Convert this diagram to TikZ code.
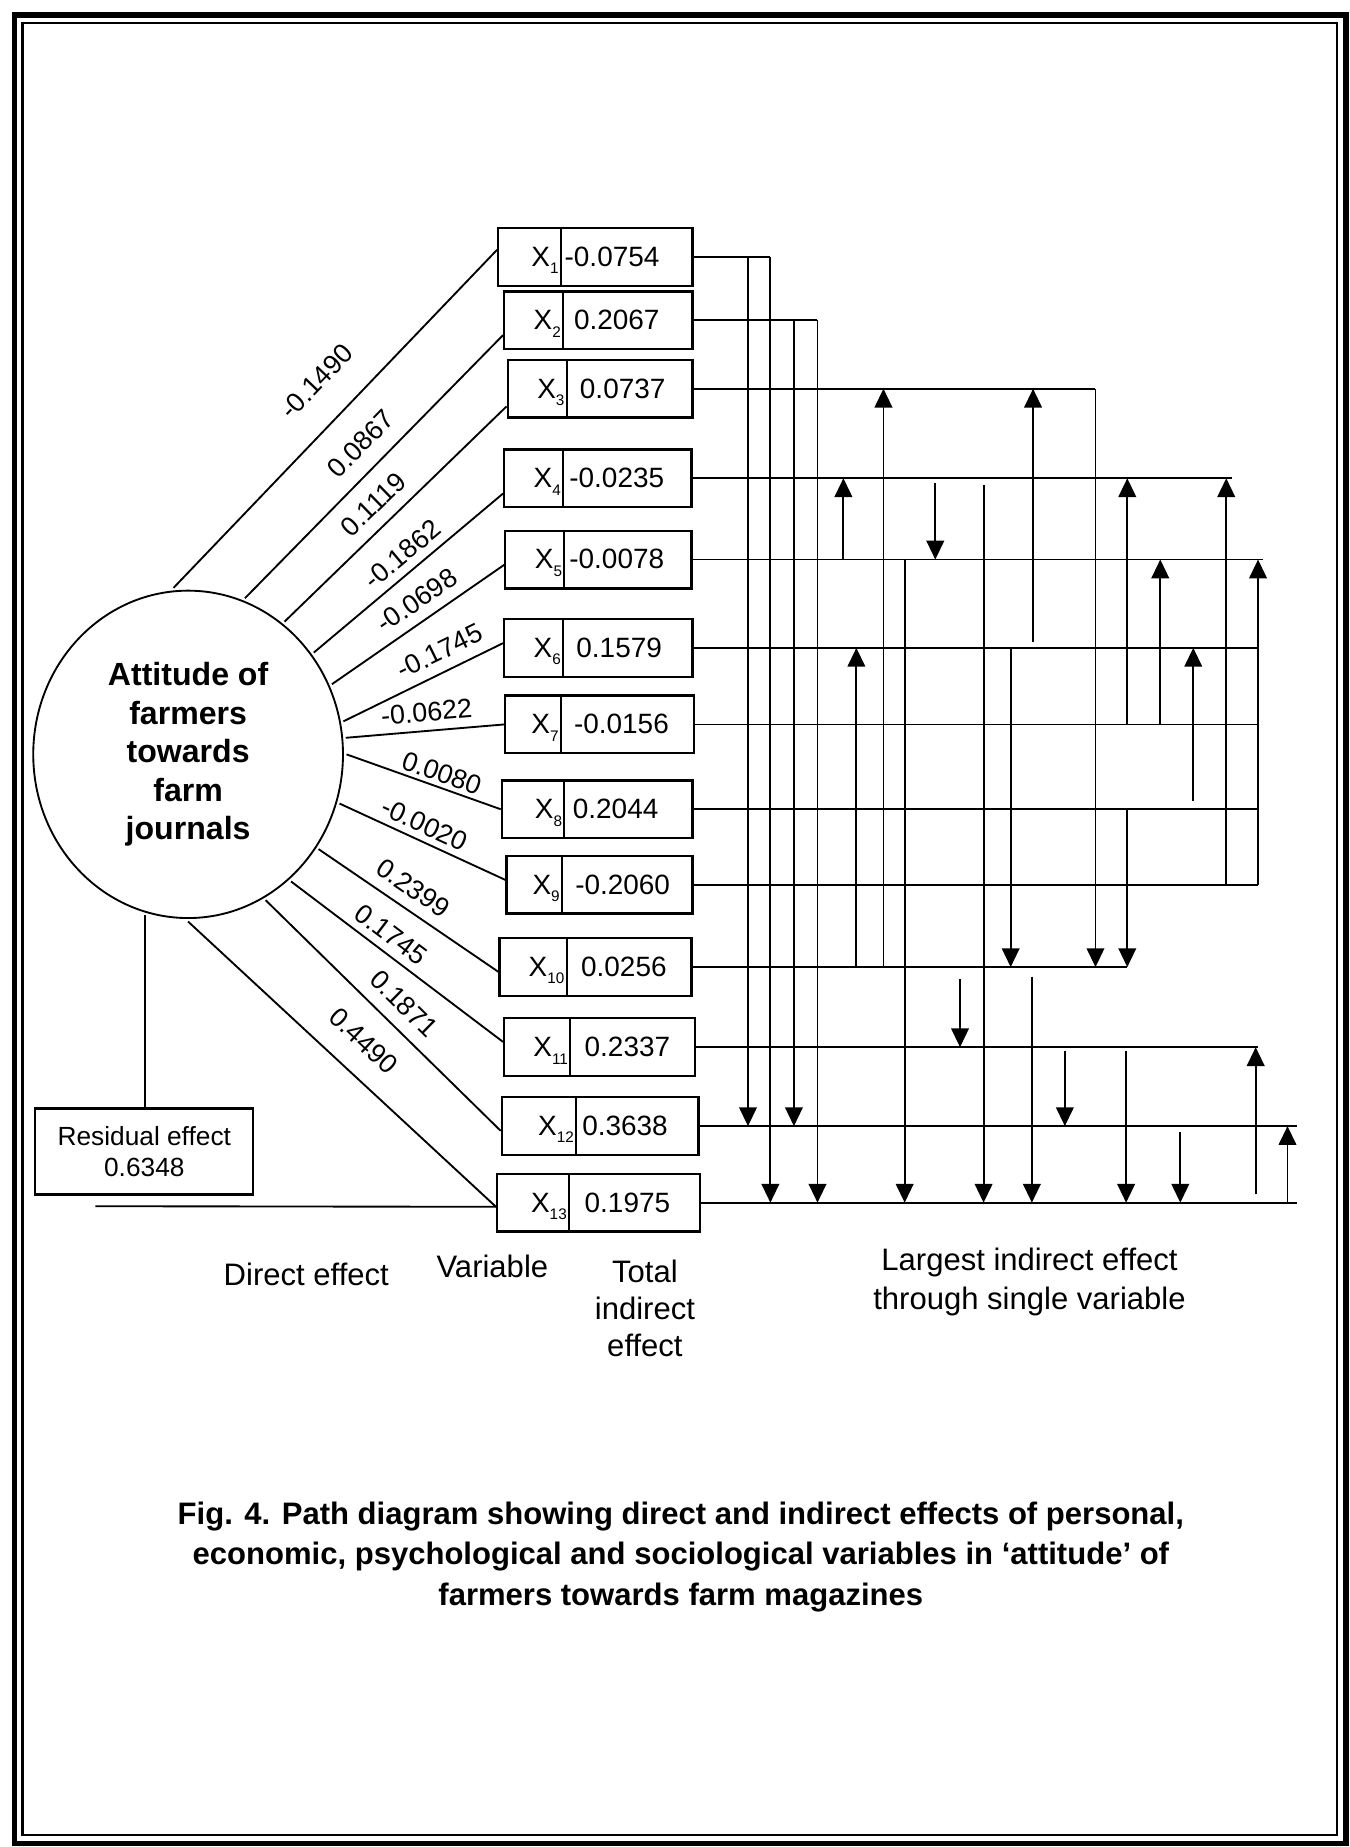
\documentclass[tikz,border=0pt]{standalone}
\usepackage{fontspec}
\setmainfont{Liberation Sans}
\usetikzlibrary{arrows.meta, shapes.geometric}
\newcommand{\varx}[1]{X\raisebox{-3.6pt}{\fontsize{7.4}{8}\selectfont #1}}

\begin{document}
\begin{tikzpicture}[x=0.02cm, y=-0.02cm,
    effline/.style={line width=0.9pt},
    effarrow/.style={line width=0.9pt, -{Triangle[length=0.32cm, width=0.3cm]}},
    varbox/.style={draw, line width=1.1pt, minimum height=0.98cm, inner sep=0pt},
    vartext/.style={font=\fontsize{13.5}{16}\selectfont, inner sep=0pt},
    pathlabel/.style={font=\fontsize{13}{15}\selectfont, sloped, anchor=south, inner sep=0pt},
    note/.style={font=\fontsize{15}{18.5}\selectfont, align=center, inner sep=0pt}]
%\draw[step=50,gray,very thin] (0,0) grid (1146,1568); %background grid
\useasboundingbox (0,0) rectangle (1146,1568);
\draw[line width=0.1cm] (12.3,12.7) rectangle (1143,1565); %frame
\draw[line width=0.04cm] (19.2,19.5) rectangle (1135,1558);

% dependent variable
\node[ellipse, draw, line width=0.9pt, minimum width=5.26cm, minimum height=5.56cm, inner sep=0pt, outer sep=0.06cm, align=center, font=\bfseries\fontsize{15.5}{18.6}\selectfont] (att) at (159.7,640.4) {Attitude of\\farmers\\towards\\farm\\journals};

% variables
\node[varbox, minimum width=3.30cm] (x1) at (505.5,218) {}; %X1
\draw[effline] (x1.north -| 476,0) -- (x1.south -| 476,0);
\node[vartext, anchor=base east] (x1n) at (474.5,226) {\varx{1}};
\node[vartext, anchor=base west] (x1v) at (479,226) {-0.0754};
\node[varbox, minimum width=3.20cm] (x2) at (508,272) {}; %X2
\draw[effline] (x2.north -| 478,0) -- (x2.south -| 478,0);
\node[vartext, anchor=base east] (x2n) at (476.5,280) {\varx{2}};
\node[vartext, anchor=base west] (x2v) at (487,280) {0.2067};
\node[varbox, minimum width=3.14cm] (x3) at (509.5,330) {}; %X3
\draw[effline] (x3.north -| 481,0) -- (x3.south -| 481,0);
\node[vartext, anchor=base east] (x3n) at (479.5,338) {\varx{3}};
\node[vartext, anchor=base west] (x3v) at (492,338) {0.0737};
\node[varbox, minimum width=3.18cm] (x4) at (507.5,406) {}; %X4
\draw[effline] (x4.north -| 478,0) -- (x4.south -| 478,0);
\node[vartext, anchor=base east] (x4n) at (476.5,414) {\varx{4}};
\node[vartext, anchor=base west] (x4v) at (483,414) {-0.0235};
\node[varbox, minimum width=3.16cm] (x5) at (508,475) {}; %X5
\draw[effline] (x5.north -| 479,0) -- (x5.south -| 479,0);
\node[vartext, anchor=base east] (x5n) at (477.5,483) {\varx{5}};
\node[vartext, anchor=base west] (x5v) at (483,483) {-0.0078};
\node[varbox, minimum width=3.20cm] (x6) at (508,550) {}; %X6
\draw[effline] (x6.north -| 478,0) -- (x6.south -| 478,0);
\node[vartext, anchor=base east] (x6n) at (476.5,558) {\varx{6}};
\node[vartext, anchor=base west] (x6v) at (489,558) {0.1579};
\node[varbox, minimum width=3.20cm] (x7) at (509,615) {}; %X7
\draw[effline] (x7.north -| 476,0) -- (x7.south -| 476,0);
\node[vartext, anchor=base east] (x7n) at (474.5,623) {\varx{7}};
\node[vartext, anchor=base west] (x7v) at (487,623) {-0.0156};
\node[varbox, minimum width=3.24cm] (x8) at (507,687) {}; %X8
\draw[effline] (x8.north -| 479,0) -- (x8.south -| 479,0);
\node[vartext, anchor=base east] (x8n) at (477.5,695) {\varx{8}};
\node[vartext, anchor=base west] (x8v) at (486,695) {0.2044};
\node[varbox, minimum width=3.16cm] (x9) at (509,751) {}; %X9
\draw[effline] (x9.north -| 477,0) -- (x9.south -| 477,0);
\node[vartext, anchor=base east] (x9n) at (475.5,759) {\varx{9}};
\node[vartext, anchor=base west] (x9v) at (488,759) {-0.2060};
\node[varbox, minimum width=3.26cm] (x10) at (505.5,821) {}; %X10
\draw[effline] (x10.north -| 481,0) -- (x10.south -| 481,0);
\node[vartext, anchor=base east] (x10n) at (479.5,829) {\varx{10}};
\node[vartext, anchor=base west] (x10v) at (493,829) {0.0256};
\node[varbox, minimum width=3.24cm] (x11) at (509,889) {}; %X11
\draw[effline] (x11.north -| 484,0) -- (x11.south -| 484,0);
\node[vartext, anchor=base east] (x11n) at (482.5,897) {\varx{11}};
\node[vartext, anchor=base west] (x11v) at (496,897) {0.2337};
\node[varbox, minimum width=3.34cm] (x12) at (509.5,956) {}; %X12
\draw[effline] (x12.north -| 489,0) -- (x12.south -| 489,0);
\node[vartext, anchor=base east] (x12n) at (487.5,964) {\varx{12}};
\node[vartext, anchor=base west] (x12v) at (494,964) {0.3638};
\node[varbox, minimum width=3.44cm] (x13) at (508,1021) {}; %X13
\draw[effline] (x13.north -| 483,0) -- (x13.south -| 483,0);
\node[vartext, anchor=base east] (x13n) at (481.5,1029) {\varx{13}};
\node[vartext, anchor=base west] (x13v) at (496,1029) {0.1975};

% residual
\node[draw, line width=1.1pt, minimum width=3.7cm, minimum height=1.46cm, inner sep=0pt, align=center, font=\fontsize{12.7}{15.3}\selectfont] (resid) at (122.5,977.5) {Residual effect\\0.6348};
\coordinate (rfoot) at (81,1024);
\coordinate (x13in) at ([yshift=-0.07cm]x13.west);
\draw[effline] (att.-105) -- (att.-105 |- resid.north);
\draw[effline] (rfoot) -- (x13in);

% direct effects
\draw[effline] (att.95) -- node[pathlabel, pos=0.53, outer sep=0.51cm] (d1) {-0.1490} ([yshift=0.12cm]x1.west);
\draw[effline] (att.70) -- node[pathlabel, pos=0.52, outer sep=0.27cm] (d2) {0.0867} ([yshift=-0.25cm]x2.west);
\draw[effline] (att.54) -- node[pathlabel, pos=0.47, outer sep=0.22cm] (d3) {0.1119} ([yshift=-0.3cm]x3.west);
\draw[effline] (att.39) -- node[pathlabel, pos=0.53, outer sep=0.15cm] (d4) {-0.1862} ([yshift=-0.26cm]x4.west);
\draw[effline] (att.26) -- node[pathlabel, pos=0.56, outer sep=0.19cm] (d5) {-0.0698} ([yshift=-0.09cm]x5.west);
\draw[effline] (att.12) -- node[pathlabel, pos=0.66, outer sep=0.19cm] (d6) {-0.1745} ([yshift=0.08cm]x6.west);
\draw[effline] (att.6) -- node[pathlabel, pos=0.52, outer sep=0.16cm] (d7) {-0.0622} (x7.west);
\draw[effline] (att.0) -- node[pathlabel, pos=0.59, outer sep=0.08cm] (d8) {0.0080} (x8.west);
\draw[effline] (att.-18) -- node[pathlabel, pos=0.47, outer sep=0.12cm] (d9) {-0.0020} ([yshift=0.08cm]x9.west);
\draw[effline] (att.-36) -- node[pathlabel, pos=0.46, outer sep=0.2cm] (d10) {0.2399} ([yshift=-0.08cm]x10.west);
\draw[effline] (att.-51) -- node[pathlabel, pos=0.42, outer sep=0.14cm] (d11) {0.1745} ([yshift=0.09cm]x11.west);
\draw[effline] (att.-62) -- node[pathlabel, pos=0.52, outer sep=0.23cm] (d12) {0.1871} ([yshift=-0.08cm]x12.west);
\draw[effline] (att.-90) -- node[pathlabel, pos=0.5, outer sep=0.38cm] (d13) {0.4490} (x13in);

% total indirect effect lines
\draw[effline] (x1.east) -- (x1.center -| 654,0);
\draw[effline] (x2.east) -- (x2.center -| 694,0);
\draw[effline] (x3.east) -- (x3.center -| 930,0);
\draw[effline] (x4.east) -- (x4.center -| 1046,0);
\draw[effline] (x5.east) -- (x5.center -| 1072,0);
\draw[effline] (x6.east) -- (x6.center -| 1068,0);
\draw[effline] (x7.east) -- (x7.center -| 1068,0);
\draw[effline] (x8.east) -- (x8.center -| 1068,0);
\draw[effline] (x9.east) -- (x9.center -| 1068,0);
\draw[effline] (x10.east) -- (x10.center -| 957,0);
\draw[effline] (x11.east) -- (x11.center -| 1068,0);
\draw[effline] (x12.east) -- (x12.center -| 1101,0);
\draw[effline] (x13.east) -- (x13.center -| 1101,0);

% largest indirect effects
\draw[effarrow] (x1.center -| 635,0) -- (x12.center -| 635,0); %1-12
\draw[effarrow] (x1.center -| 654,0) -- (x13.center -| 654,0); %1-13
\draw[effarrow] (x2.center -| 674,0) -- (x12.center -| 674,0); %2-12
\draw[effarrow] (x2.center -| 694,0) -- (x13.center -| 694,0); %2-13
\draw[effarrow] (x5.center -| 716,0) -- (x4.center -| 716,0); %5-4
\draw[effarrow] (x10.center -| 727,0) -- (x6.center -| 727,0); %10-6
\draw[effarrow] (x10.center -| 750,0) -- (x3.center -| 750,0); %10-3
\draw[effarrow] (x5.center -| 768,0) -- (x13.center -| 768,0); %5-13
\draw[effarrow] (x4.center -| 794,0) ++(0,4) -- (x5.center -| 794,0); %4-5
\draw[effarrow] (x10.center -| 815,0) ++(0,10) -- (x11.center -| 815,0); %10-11
\draw[effarrow] (x4.center -| 835,0) ++(0,6) -- (x13.center -| 835,0); %4-13
\draw[effarrow] (x6.center -| 858,0) -- (x10.center -| 858,0); %6-10
\draw[effarrow] (x6.center -| 877,0) ++(0,-5) -- (x3.center -| 877,0); %6-3
\draw[effarrow] (x10.center -| 876,0) ++(0,8) -- (x13.center -| 876,0); %10-13
\draw[effarrow] (x11.center -| 904,0) ++(0,3) -- (x12.center -| 904,0); %11-12
\draw[effarrow] (x3.center -| 930,0) -- (x10.center -| 930,0); %3-10
\draw[effarrow] (x7.center -| 957,0) -- (x4.center -| 957,0); %7-4
\draw[effarrow] (x8.center -| 957,0) -- (x10.center -| 957,0); %8-10
\draw[effarrow] (x11.center -| 956,0) ++(0,3) -- (x13.center -| 956,0); %11-13
\draw[effarrow] (x7.center -| 985,0) -- (x5.center -| 985,0); %7-5
\draw[effarrow] (x12.center -| 1002,0) ++(0,5) -- (x13.center -| 1002,0); %12-13
\draw[effarrow] (x8.center -| 1013,0) ++(0,-7) -- (x6.center -| 1013,0); %8-6
\draw[effarrow] (x9.center -| 1041,0) -- (x4.center -| 1041,0); %9-4
\draw[effarrow] (x13.center -| 1066,0) ++(0,-7) -- (x11.center -| 1066,0); %13-11
\draw[effarrow] (x9.center -| 1068,0) -- (x5.center -| 1068,0); %9-5
\draw[effarrow] (x13.center -| 1093,0) -- (x12.center -| 1093,0); %13-12

% headings and caption
\node[note] (direct) at (260,1082) {Direct effect};
\node[note] (varname) at (418,1075) {Variable};
\node[note, font=\fontsize{15}{17.9}\selectfont] (total) at (547.5,1111) {Total\\indirect\\effect};
\node[note, font=\fontsize{15}{18.7}\selectfont] (largest) at (874,1088.5) {Largest indirect effect\\through single variable};
\node[note, font=\bfseries\fontsize{15}{19.6}\selectfont] (caption) at (578,1321.7) {Fig. 4. Path diagram showing direct and indirect effects of personal,\\economic, psychological and sociological variables in ‘attitude’ of\\farmers towards farm magazines};
\end{tikzpicture}
\end{document}
